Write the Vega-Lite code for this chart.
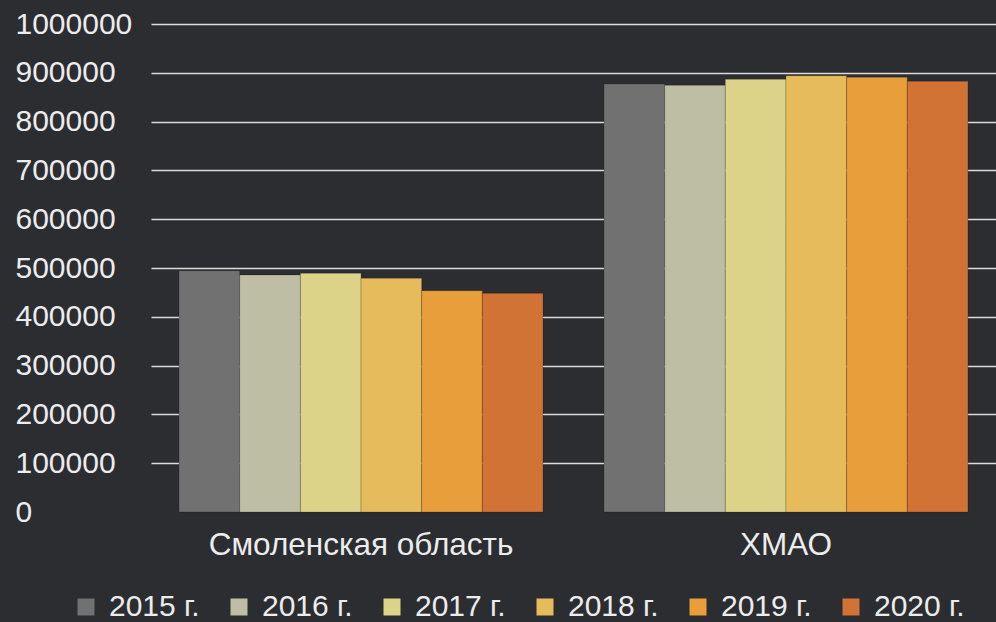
{
  "$schema": "https://vega.github.io/schema/vega-lite/v6.json",
  "width": 845,
  "height": 488,
  "autosize": {"type": "none"},
  "padding": {"left": 151, "top": 24, "right": 0, "bottom": 110},
  "background": "#2b2d30",
  "config": {
    "font": "Liberation Sans",
    "view": {"stroke": null},
    "axis": {"labelColor": "#ececec", "labelFont": "Liberation Sans", "labelFontSize": 30, "domain": false, "ticks": false, "tickSize": 0, "title": null, "labelLimit": 0}
  },
  "data": {
    "values": [
      {"region": "Смоленская область", "year": "2015 г.", "value": 494500},
      {"region": "Смоленская область", "year": "2016 г.", "value": 485700},
      {"region": "Смоленская область", "year": "2017 г.", "value": 489100},
      {"region": "Смоленская область", "year": "2018 г.", "value": 478900},
      {"region": "Смоленская область", "year": "2019 г.", "value": 453500},
      {"region": "Смоленская область", "year": "2020 г.", "value": 448100},
      {"region": "ХМАО", "year": "2015 г.", "value": 877000},
      {"region": "ХМАО", "year": "2016 г.", "value": 874300},
      {"region": "ХМАО", "year": "2017 г.", "value": 886600},
      {"region": "ХМАО", "year": "2018 г.", "value": 894100},
      {"region": "ХМАО", "year": "2019 г.", "value": 890700},
      {"region": "ХМАО", "year": "2020 г.", "value": 882600}
    ]
  },
  "mark": {"type": "bar", "stroke": "#000000", "strokeOpacity": 0.18, "strokeWidth": 1},
  "encoding": {
    "x": {
      "field": "region", "type": "nominal", "sort": null,
      "scale": {"paddingInner": 0.1435, "paddingOuter": 0.066},
      "axis": {"labelAngle": 0, "labelPadding": 17, "grid": false, "labelLimit": 0, "labelFontSize": 31.5}
    },
    "xOffset": {
      "field": "year", "type": "nominal", "sort": null,
      "scale": {"paddingInner": 0, "paddingOuter": 0}
    },
    "y": {
      "field": "value", "type": "quantitative",
      "scale": {"domain": [0, 1000000], "nice": false},
      "axis": {
        "values": [0, 100000, 200000, 300000, 400000, 500000, 600000, 700000, 800000, 900000, 1000000],
        "format": "d",
        "labelAlign": "left",
        "labelBaseline": "middle",
        "labelPadding": 136,
        "grid": true,
        "gridColor": {"condition": {"test": "datum.value === 0", "value": "transparent"}, "value": "#dcdcdc"},
        "gridWidth": 1.6
      }
    },
    "color": {
      "field": "year", "type": "nominal", "sort": null,
      "scale": {"range": ["#717171", "#bebea4", "#dcd388", "#e6bb5c", "#e89e3a", "#d07335"]},
      "legend": {
        "title": null,
        "orient": "none",
        "legendX": -80,
        "legendY": 568,
        "direction": "horizontal",
        "columns": 6,
        "padding": 0,
        "symbolType": "square",
        "symbolSize": 289,
        "symbolStrokeWidth": 0,
        "labelFontSize": 30,
        "labelColor": "#ececec",
        "labelFont": "Liberation Sans",
        "labelOffset": 8,
        "columnPadding": 24,
        "labelLimit": 0
      }
    }
  }
}
